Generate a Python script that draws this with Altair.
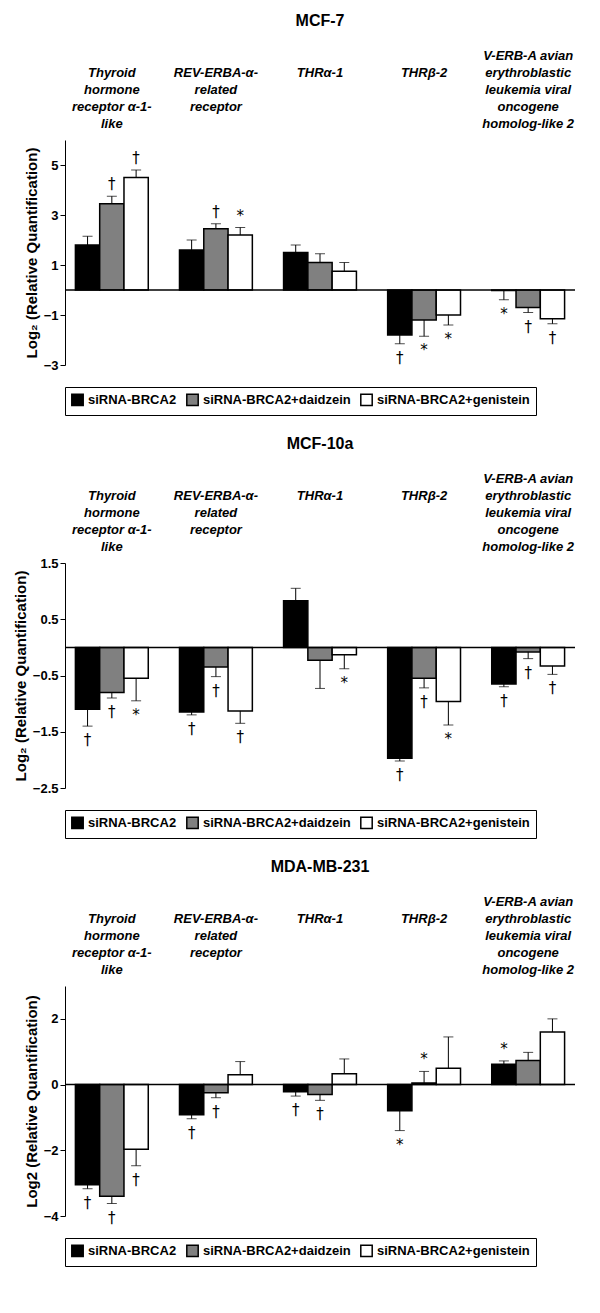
import altair as alt
import pandas as pd

# leading "|" pads each label to five lines so that their bottoms line up
genes = ["|Thyroid|hormone|receptor α-1-|like", "||REV-ERBA-α-|related|receptor", "||||THRα-1", "||||THRβ-2",
         "V-ERB-A avian|erythroblastic|leukemia viral|oncogene|homolog-like 2"]
groups = ["siRNA-BRCA2", "siRNA-BRCA2+daidzein", "siRNA-BRCA2+genistein"]

# values per gene, in group order
mcf7_val = [[1.8, 3.45, 4.5], [1.6, 2.45, 2.2], [1.5, 1.1, 0.75], [-1.8, -1.2, -1.0], [-0.02, -0.7, -1.15]]
mcf7_err = [[0.35, 0.3, 0.3], [0.4, 0.2, 0.3], [0.3, 0.35, 0.35], [0.35, 0.65, 0.4], [0.37, 0.2, 0.2]]
mcf7_ann = [["", "†", "†"], ["", "†", "*"], ["", "", ""], ["†", "*", "*"], ["*", "†", "†"]]

mcf10_val = [[-1.1, -0.8, -0.55], [-1.15, -0.35, -1.13], [0.83, -0.23, -0.13], [-1.97, -0.55, -0.96], [-0.65, -0.08, -0.33]]
mcf10_err = [[0.3, 0.1, 0.4], [0.05, 0.17, 0.22], [0.22, 0.5, 0.25], [0.05, 0.17, 0.42], [0.05, 0.12, 0.15]]
mcf10_ann = [["†", "†", "*"], ["†", "†", "†"], ["", "", "*"], ["†", "†", "*"], ["†", "†", "†"]]

mda_val = [[-3.05, -3.4, -1.97], [-0.92, -0.25, 0.3], [-0.22, -0.3, 0.33], [-0.8, 0.05, 0.5], [0.62, 0.73, 1.6]]
mda_err = [[0.12, 0.22, 0.5], [0.12, 0.15, 0.4], [0.13, 0.18, 0.45], [0.6, 0.35, 0.95], [0.1, 0.25, 0.4]]
mda_ann = [["†", "†", "†"], ["†", "†", ""], ["†", "†", ""], ["*", "*", ""], ["*", "", ""]]

FONT = "Liberation Sans"


def panel(title, vals, errs, anns, ymin, ymax, ystep, ytitle, h):
    rows = []
    for gi, g in enumerate(genes):
        for si, s in enumerate(groups):
            v, e, a = vals[gi][si], errs[gi][si], anns[gi][si]
            end = v + e if v >= 0 else v - e
            rows.append({"gene": g, "group": s, "val": v, "end": end,
                         "up": a if (v >= 0 and a) else "", "down": a if (v < 0 and a) else ""})
    df = pd.DataFrame(rows)
    x = alt.X("gene:N", sort=genes, title=None,
              scale=alt.Scale(paddingInner=0.3, paddingOuter=0.1),
              axis=alt.Axis(orient="top", domain=False, ticks=False, labelAngle=0,
                            labelExpr="split(datum.label, '|')", labelFont=FONT,
                            labelFontStyle="italic", labelFontWeight="bold", labelFontSize=13,
                            labelBaseline="bottom", labelLineHeight=17, labelPadding=78,
                            labelColor="black", labelLimit=0))
    xo = alt.XOffset("group:N", sort=groups)
    base = alt.Chart(df).encode(x=x, xOffset=xo)
    y = alt.Y("val:Q", title=ytitle, scale=alt.Scale(domain=[ymin, ymax], nice=False),
              axis=alt.Axis(values=[ymin + i * ystep for i in range(int(round((ymax - ymin) / ystep)) + 1)],
                            grid=False, domainColor="black", tickColor="black", labelColor="black",
                            labelOverlap=False, labelFont=FONT, labelFontWeight="bold", labelFontSize=13,
                            titleFont=FONT, titleFontSize=15, titleColor="black"))
    bars = base.mark_bar(stroke="black", strokeWidth=1.5).encode(
        y=y,
        color=alt.Color("group:N", sort=groups, title=None,
                        scale=alt.Scale(domain=groups, range=["black", "#808080", "white"]),
                        legend=alt.Legend(orient="bottom", direction="horizontal", symbolType="square",
                                          symbolStrokeColor="black", symbolStrokeWidth=1.5, symbolSize=130,
                                          labelFont=FONT, labelFontSize=13, labelFontWeight="bold",
                                          labelColor="black", labelLimit=0, strokeColor="black", padding=6,
                                          columnPadding=6, offset=22)))
    rule = base.mark_rule(color="black").encode(y="val:Q", y2="end:Q")
    cap = base.mark_tick(color="black", size=10, thickness=1).encode(y="end:Q")
    up = base.mark_text(dy=-12, fontSize=15, font="DejaVu Sans", fill="black").encode(y="end:Q", text="up:N")
    down = base.mark_text(dy=14, fontSize=15, font="DejaVu Sans", fill="black").encode(y="end:Q", text="down:N")
    zero = alt.Chart(pd.DataFrame({"z": [0]})).mark_rule(color="black", strokeWidth=1.5).encode(y="z:Q")
    return alt.layer(bars, rule, cap, up, down, zero).properties(
        width=510, height=h,
        title=alt.TitleParams(title, font=FONT, fontSize=16, fontWeight="bold", color="black", offset=20))


p1 = panel("MCF-7", mcf7_val, mcf7_err, mcf7_ann, -3, 6, 1, "Log₂ (Relative Quantification)", 225)
p2 = panel("MCF-10a", mcf10_val, mcf10_err, mcf10_ann, -2.5, 1.5, 0.5, "Log₂ (Relative Quantification)", 225)
p3 = panel("MDA-MB-231", mda_val, mda_err, mda_ann, -4, 3, 1, "Log2 (Relative Quantification)", 230)

chart = alt.vconcat(p1, p2, p3, spacing=20).resolve_scale(color="independent").configure_view(stroke=None)
chart.save("out.html", embed_options={"renderer": "svg", "actions": False})
